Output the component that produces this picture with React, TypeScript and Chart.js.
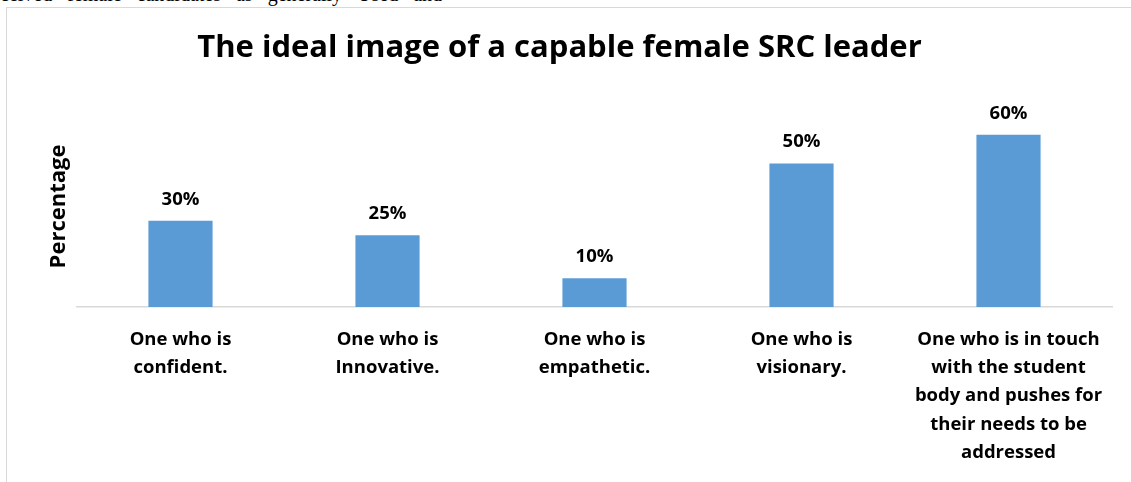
import React, { useEffect, useRef } from "react";
import { Chart, registerables } from "chart.js";

Chart.register(...registerables);

const chartTitle = "The ideal image of a capable female SRC leader";
const yAxisTitle = "Percentage";
const categories: string[][] = [
  ["One who is", "confident."],
  ["One who is", "Innovative."],
  ["One who is", "empathetic."],
  ["One who is", "visionary."],
  ["One who is in touch", "with the student", "body and pushes for", "their needs to be", "addressed"],
];
const percentages: number[] = [30, 25, 10, 50, 60];
const valueLabels: string[] = ["30%", "25%", "10%", "50%", "60%"];
const yMax = 70;

const FONT = "'Open Sans', Lato, sans-serif";

const valueLabelPlugin = {
  id: "valueLabels",
  afterDatasetsDraw(chart: any) {
    const ctx = chart.ctx;
    const meta = chart.getDatasetMeta(0);
    ctx.save();
    ctx.font = `bold 18.5px ${FONT}`;
    ctx.fillStyle = "#000000";
    ctx.textAlign = "center";
    ctx.textBaseline = "bottom";
    meta.data.forEach((bar: any, i: number) => {
      ctx.fillText(valueLabels[i], bar.x, bar.y - 12);
    });
    ctx.restore();
  },
};

export default function App() {
  const canvasRef = useRef<HTMLCanvasElement | null>(null);

  useEffect(() => {
    if (!canvasRef.current) return;
    const chart = new Chart(canvasRef.current, {
      type: "bar",
      data: {
        labels: categories,
        datasets: [
          {
            data: percentages,
            backgroundColor: "#5b9bd5",
            borderWidth: 0,
            categoryPercentage: 1,
            barPercentage: 0.31,
          },
        ],
      },
      plugins: [valueLabelPlugin],
      options: {
        animation: false,
        responsive: true,
        maintainAspectRatio: false,
        layout: { padding: { left: 0, right: 19, top: 0, bottom: 0 } },
        plugins: {
          legend: { display: false },
          tooltip: { enabled: false },
          title: {
            display: true,
            text: chartTitle,
            color: "#000000",
            font: { family: FONT, size: 31, weight: "bold", lineHeight: 1.2 },
            padding: { top: 21.5, bottom: 39.3 },
          },
        },
        scales: {
          x: {
            grid: { display: false },
            border: { display: true, color: "#d9d9d9", width: 1.5 },
            ticks: {
              color: "#000000",
              font: { family: FONT, size: 18.5, weight: "bold", lineHeight: 1.54 },
              padding: 10,
              maxRotation: 0,
              autoSkip: false,
            },
            afterFit: (scale: any) => {
              scale.height = 175;
            },
          },
          y: {
            min: 0,
            max: yMax,
            grid: { display: false },
            border: { display: false },
            ticks: { display: false },
            title: {
              display: true,
              text: yAxisTitle,
              color: "#000000",
              font: { family: FONT, size: 22, weight: "bold", lineHeight: 1.2 },
              padding: { top: 38.5, bottom: 0 },
            },
            afterFit: (scale: any) => {
              scale.width = 70;
            },
          },
        },
      },
    });
    return () => chart.destroy();
  }, []);

  return (
    <div
      style={{
        position: "fixed",
        left: 0,
        top: 0,
        width: 1131,
        height: 482,
        overflow: "hidden",
        background: "#ffffff",
      }}
    >
      <div
        style={{
          position: "absolute",
          left: 0,
          top: -16,
          whiteSpace: "nowrap",
          fontFamily: "'Liberation Serif', serif",
          fontSize: 20,
          lineHeight: "20px",
          wordSpacing: 10,
          color: "#000",
        }}
      >
        ceived female candidates as generally Used and
      </div>
      <div
        style={{
          position: "absolute",
          left: 6,
          top: 7,
          width: 1140,
          height: 490,
          borderLeft: "1.5px solid #d9d9d9",
          borderTop: "1.5px solid #d9d9d9",
          boxSizing: "border-box",
        }}
      />
      <div style={{ position: "absolute", left: 7, top: 8, width: 1124, height: 474 }}>
        <canvas ref={canvasRef} />
      </div>
    </div>
  );
}
